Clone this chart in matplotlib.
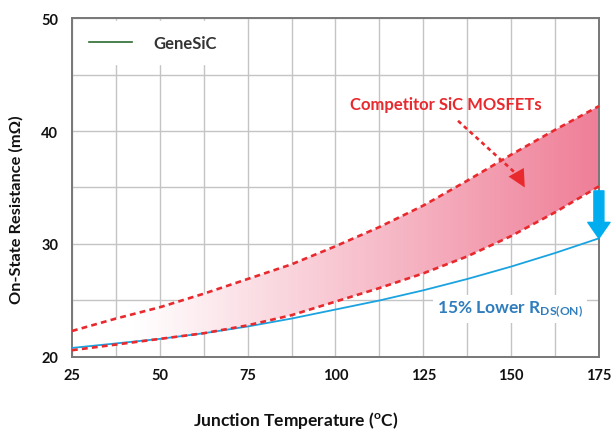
import numpy as np
import matplotlib
matplotlib.use("Agg")
import matplotlib.pyplot as plt
from matplotlib.colors import LinearSegmentedColormap

plt.rcParams["font.family"] = ["Lato", "DejaVu Sans"]
plt.rcParams["font.weight"] = "bold"
plt.rcParams["axes.labelweight"] = "bold"
plt.rcParams["mathtext.default"] = "regular"

# Values
temps = [25, 37.5, 50, 62.5, 75, 87.5, 100, 112.5, 125, 137.5, 150, 162.5, 175]
genesic = [20.8, 21.2, 21.6, 22.1, 22.7, 23.4, 24.2, 25.0, 25.9, 26.9, 28.0, 29.2, 30.5]
comp_upper = [22.3, 23.4, 24.4, 25.6, 26.9, 28.2, 29.8, 31.5, 33.4, 35.6, 37.9, 40.1, 42.2]
comp_lower = [20.6, 21.1, 21.6, 22.1, 22.8, 23.7, 24.9, 26.1, 27.4, 28.9, 30.7, 32.8, 35.1]
x_ticks = [25, 50, 75, 100, 125, 150, 175]
y_ticks = [20, 30, 40, 50]

red = "#e8292e"
blue_line = "#1aa3e0"

fig = plt.figure(figsize=(6.12, 4.31), dpi=100)
ax = fig.add_axes([0.1176, 0.1694, 0.861, 0.7865])

ax.set_xlim(25, 175)
ax.set_ylim(20, 50)
ax.set_xticks(x_ticks)
ax.set_yticks(y_ticks)
ax.set_xticks(np.arange(37.5, 175, 25), minor=True)
ax.set_yticks(np.arange(25, 50, 10), minor=True)
ax.grid(True, which="both", color="#c4c4c4", linewidth=1.0)
ax.set_axisbelow(True)
ax.tick_params(which="both", length=0)
ax.tick_params(axis="x", pad=8, labelsize=10.5, labelcolor="#111111")
ax.tick_params(axis="y", pad=10, labelsize=10.5, labelcolor="#111111")
for s in ax.spines.values():
    s.set_color("#777777")
    s.set_linewidth(1.4)

# gradient band between competitor curves
band = ax.fill_between(temps, comp_lower, comp_upper, facecolor="none", edgecolor="none")
cmap = LinearSegmentedColormap.from_list(
    "band", [(0.0, "#ffffff"), (0.12, "#ffffff"), (1.0, "#ef7f98")])
grad = np.linspace(0, 1, 256).reshape(1, -1)
img = ax.imshow(grad, cmap=cmap, aspect="auto", extent=[25, 175, 20, 50],
                origin="lower", zorder=2)
img.set_clip_path(band.get_paths()[0], transform=ax.transData)
ax.set_xlim(25, 175)
ax.set_ylim(20, 50)

ax.plot(temps, genesic, color=blue_line, linewidth=1.3, zorder=3)
ax.plot(temps, comp_upper, color=red, linewidth=1.9, linestyle=(0, (2.2, 1.6)), zorder=4)
ax.plot(temps, comp_lower, color=red, linewidth=1.9, linestyle=(0, (2.2, 1.6)), zorder=4)

# legend (only the GeneSiC line)
ax.plot([], [], color="#2e6b30", linewidth=1.2, label="GeneSiC")
leg = ax.legend(loc="upper left", frameon=True, fancybox=False, framealpha=1,
                edgecolor="white", fontsize=12, handlelength=2.6, handletextpad=1.3,
                borderaxespad=0.2, borderpad=0.8)
for t in leg.get_texts():
    t.set_color("#333333")

# competitor label and dotted arrow
ax.text(131.5, 42.4, "Competitor SiC MOSFETs", color=red, fontsize=12,
        ha="center", va="center", zorder=5)
ax.plot([134.9, 151.5], [40.9, 36.2], color=red, linewidth=1.9,
        linestyle=(0, (1.6, 1.4)), zorder=5)
ax.annotate("", xy=(153.9, 35.0), xytext=(151.0, 36.6),
            arrowprops=dict(arrowstyle="-|>,head_width=0.45,head_length=0.9",
                            color=red, lw=0, mutation_scale=14,
                            shrinkA=0, shrinkB=0), zorder=5)

# blue arrow at 175
ax.annotate("", xy=(175, 30.5), xytext=(175, 34.7),
            arrowprops=dict(arrowstyle="simple,head_width=1.6,head_length=1.15,tail_width=0.72",
                            color="#00aeef", shrinkA=0, shrinkB=0, mutation_scale=10),
            annotation_clip=False, zorder=6)

ax.text(128.9, 24.25, r"15% Lower R$_{DS(ON)}$", color="#2f7dbd", fontsize=12.5,
        ha="left", va="center", zorder=5,
        bbox=dict(facecolor="white", edgecolor="none", pad=3))

ax.set_xlabel("Junction Temperature ($^{o}$C)", fontsize=12.5, color="#111111", va="center")
ax.set_ylabel("On-State Resistance (m\u03a9)", fontsize=11.8, color="#111111", va="center")
ax.xaxis.set_label_coords(0.425, -0.183)
ax.yaxis.set_label_coords(-0.106, 0.437)

fig.savefig("out.png", dpi=100)
